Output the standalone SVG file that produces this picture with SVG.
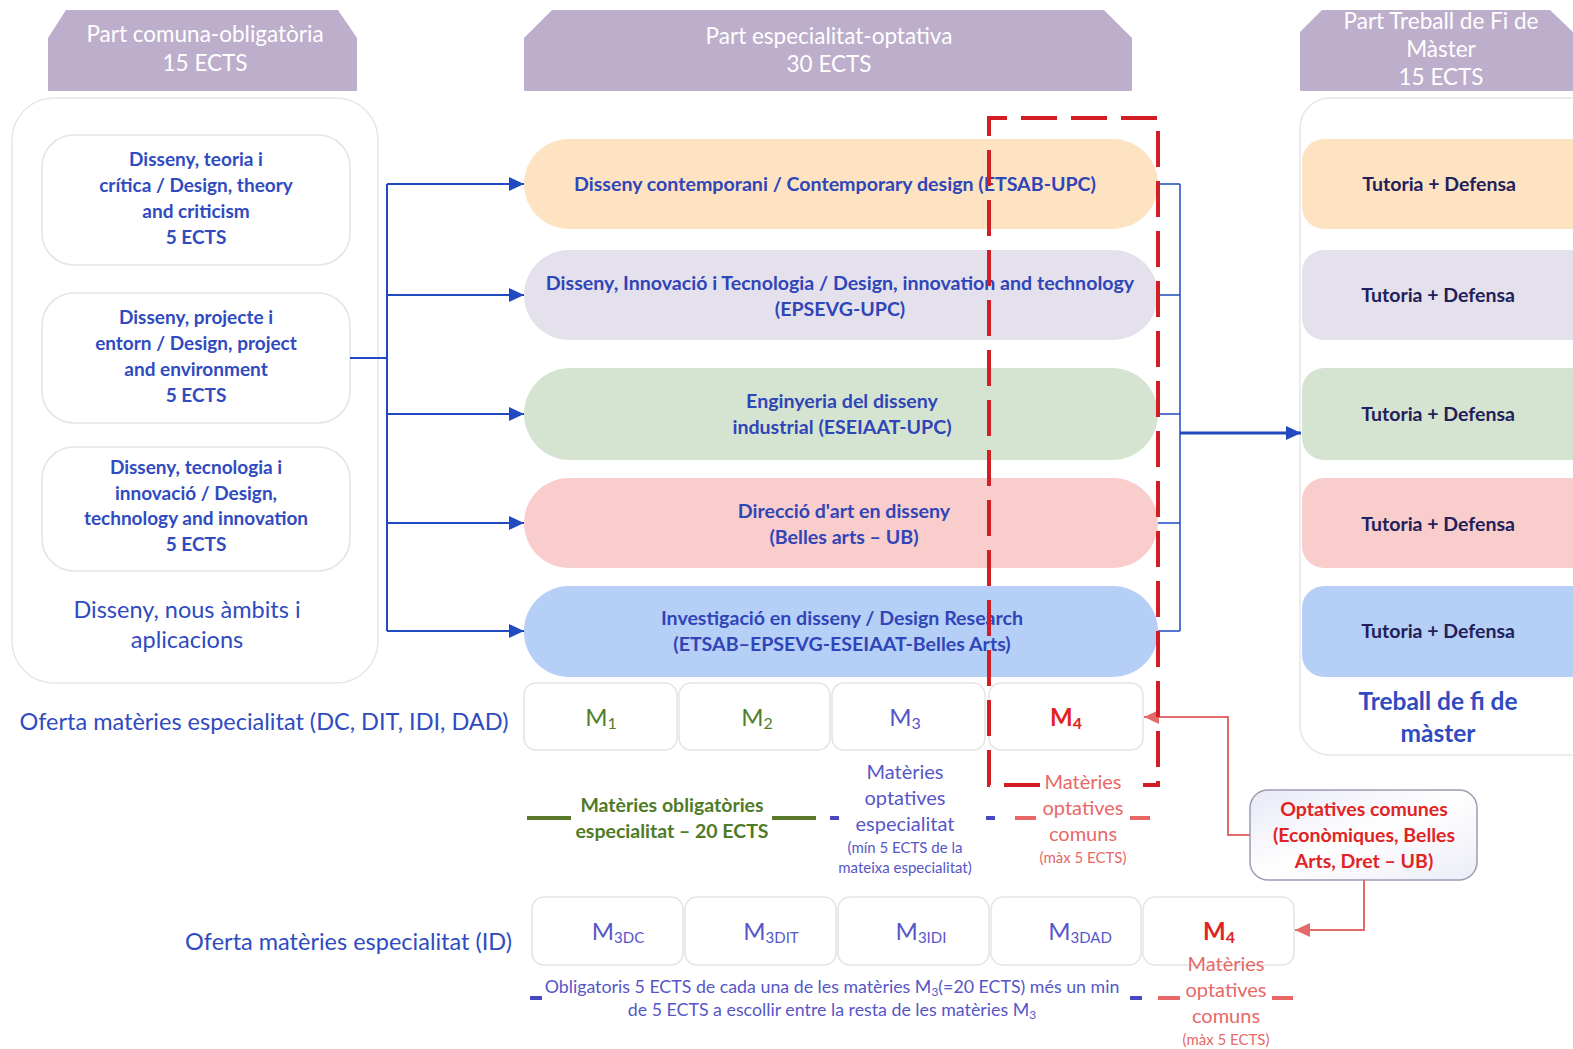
<svg xmlns="http://www.w3.org/2000/svg" width="1573" height="1049" viewBox="0 0 1573 1049">
<defs>
<style>
text{font-family:Lato,"Open Sans","Liberation Sans",sans-serif;text-anchor:middle}
.hdr{fill:#bdaecb}
.hdrt{fill:#ffffff;font-size:22.5px}
.cont{fill:#ffffff;stroke:#e6e6ea;stroke-width:1.5}
.inner{fill:#ffffff;stroke:#e3e3e8;stroke-width:1.5}
.lt{fill:#2f4bbf;font-size:19px;font-weight:bold}
.big{fill:#2f4bbf;font-size:23.5px}
.tfmt{fill:#2f4bbf;font-size:24.5px;font-weight:bold}
.pt{fill:#2f45b8;font-size:19.6px;font-weight:bold}
.tt{fill:#22205a;font-size:19.5px;font-weight:bold}
.mod{fill:#ffffff;stroke:#e3e3e8;stroke-width:1.5}
.mg{fill:#4f7f2c;font-size:24px}
.mb{fill:#5656c8;font-size:24px}
.mr{fill:#e32222;font-size:24px;font-weight:bold}
.con{stroke:#2149c0;stroke-width:2;fill:none}
.conr{stroke:#e26a6a;stroke-width:2;fill:none}
.green{fill:#4f7a28;font-size:19.5px;font-weight:bold}
.blue{fill:#5656c8;font-size:20px}
.blue2{fill:#5656c8;font-size:17.8px}
.red{fill:#e86868;font-size:20px}
.small{font-size:15px}
.oc{fill:#e02424;font-size:19.5px;font-weight:bold}
</style>
<marker id="ab" markerUnits="userSpaceOnUse" markerWidth="16" markerHeight="14" refX="15" refY="7" orient="auto"><path d="M0,0 L15,7 L0,14 Z" fill="#2149c0"/></marker>
<marker id="ar" markerUnits="userSpaceOnUse" markerWidth="16" markerHeight="14" refX="15" refY="7" orient="auto"><path d="M0,0 L15,7 L0,14 Z" fill="#e26a6a"/></marker>
<linearGradient id="og" x1="0" y1="0" x2="1" y2="1"><stop offset="0" stop-color="#e9e9f7"/><stop offset="0.5" stop-color="#ffffff"/><stop offset="1" stop-color="#ececf7"/></linearGradient>
</defs>
<rect width="1573" height="1049" fill="#ffffff"/>

<g id="header-comuna">
<path class="hdr" d="M66,10 H338 L357,38 V91 H48 V38 Z"/>
<text class="hdrt" x="205" y="42">Part comuna-obligatòria</text>
<text class="hdrt" x="205" y="71">15 ECTS</text>
</g>
<g id="header-especialitat">
<path class="hdr" d="M552,10 H1104 L1132,38 V91 H524 V38 Z"/>
<text class="hdrt" x="829" y="44">Part especialitat-optativa</text>
<text class="hdrt" x="829" y="72">30 ECTS</text>
</g>
<g id="header-tfm">
<path class="hdr" d="M1322,10 H1550 L1573,32 V91 H1300 V32 Z"/>
<text class="hdrt" x="1441" y="29">Part Treball de Fi de</text>
<text class="hdrt" x="1441" y="57">Màster</text>
<text class="hdrt" x="1441" y="85">15 ECTS</text>
</g>

<g id="comuna-container">
<rect class="cont" x="12" y="98" width="366" height="585" rx="42"/>
<text class="big" x="187" y="618">Disseny, nous àmbits i</text>
<text class="big" x="187" y="648">aplicacions</text>
</g>
<g id="comuna-1">
<rect class="inner" x="42" y="135" width="308" height="130" rx="32"/>
<text class="lt" x="196" y="166">Disseny, teoria i</text>
<text class="lt" x="196" y="192">crítica / Design, theory</text>
<text class="lt" x="196" y="218">and criticism</text>
<text class="lt" x="196" y="244">5 ECTS</text>
</g>
<g id="comuna-2">
<rect class="inner" x="42" y="293" width="308" height="130" rx="32"/>
<text class="lt" x="196" y="324">Disseny, projecte i</text>
<text class="lt" x="196" y="350">entorn / Design, project</text>
<text class="lt" x="196" y="376">and environment</text>
<text class="lt" x="196" y="402">5 ECTS</text>
</g>
<g id="comuna-3">
<rect class="inner" x="42" y="447" width="308" height="124" rx="32"/>
<text class="lt" x="196" y="474">Disseny, tecnologia i</text>
<text class="lt" x="196" y="500">innovació / Design,</text>
<text class="lt" x="196" y="525">technology and innovation</text>
<text class="lt" x="196" y="551">5 ECTS</text>
</g>

<g id="esp-dc">
<rect x="524" y="139" width="634" height="90" rx="45" fill="#fde3c1"/>
<text class="pt" x="835" y="191">Disseny contemporani / Contemporary design (ETSAB-UPC)</text>
</g>
<g id="esp-dit">
<rect x="524" y="250" width="634" height="90" rx="45" fill="#e4e1ec"/>
<text class="pt" x="840" y="290">Disseny, Innovació i Tecnologia / Design, innovation and technology</text>
<text class="pt" x="840" y="316">(EPSEVG-UPC)</text>
</g>
<g id="esp-idi">
<rect x="524" y="368" width="634" height="92" rx="46" fill="#d5e4d0"/>
<text class="pt" x="842" y="408">Enginyeria del disseny</text>
<text class="pt" x="842" y="434">industrial (ESEIAAT-UPC)</text>
</g>
<g id="esp-dad">
<rect x="524" y="478" width="634" height="90" rx="45" fill="#f8cdcb"/>
<text class="pt" x="844" y="518">Direcció d'art en disseny</text>
<text class="pt" x="844" y="544">(Belles arts – UB)</text>
</g>
<g id="esp-id">
<rect x="524" y="586" width="634" height="91" rx="45" fill="#b6cff6"/>
<text class="pt" x="842" y="625">Investigació en disseny / Design Research</text>
<text class="pt" x="842" y="651">(ETSAB–EPSEVG-ESEIAAT-Belles Arts)</text>
</g>

<g id="tfm-container">
<rect class="cont" x="1300" y="98" width="300" height="657" rx="30"/>
<text class="tfmt" x="1438" y="710">Treball de fi de</text>
<text class="tfmt" x="1438" y="742">màster</text>
</g>
<g id="tfm-1"><rect x="1302" y="139" width="290" height="90" rx="22" fill="#fde3c1"/><text class="tt" x="1439" y="191">Tutoria + Defensa</text></g>
<g id="tfm-2"><rect x="1302" y="250" width="290" height="90" rx="22" fill="#e4e1ec"/><text class="tt" x="1438" y="302">Tutoria + Defensa</text></g>
<g id="tfm-3"><rect x="1302" y="368" width="290" height="92" rx="22" fill="#d5e4d0"/><text class="tt" x="1438" y="421">Tutoria + Defensa</text></g>
<g id="tfm-4"><rect x="1302" y="478" width="290" height="90" rx="22" fill="#f8cdcb"/><text class="tt" x="1438" y="531">Tutoria + Defensa</text></g>
<g id="tfm-5"><rect x="1302" y="586" width="290" height="91" rx="22" fill="#b6cff6"/><text class="tt" x="1438" y="638">Tutoria + Defensa</text></g>

<g id="oferta-1">
<text class="big" x="264" y="730">Oferta matèries especialitat (DC, DIT, IDI, DAD)</text>
</g>
<g id="m1"><rect class="mod" x="524" y="683" width="153" height="67" rx="12"/><text class="mg" x="601" y="726">M<tspan style="font-size:16px" dy="3">1</tspan></text></g>
<g id="m2"><rect class="mod" x="679" y="683" width="151" height="67" rx="12"/><text class="mg" x="757" y="726">M<tspan style="font-size:16px" dy="3">2</tspan></text></g>
<g id="m3"><rect class="mod" x="832" y="683" width="153" height="67" rx="12"/><text class="mb" x="905" y="726">M<tspan style="font-size:16px" dy="3">3</tspan></text></g>
<g id="m4"><rect class="mod" x="989" y="683" width="154" height="67" rx="12"/><text class="mr" x="1066" y="726">M<tspan style="font-size:16px" dy="3">4</tspan></text></g>

<g id="optatives-comunes">
<rect x="1250" y="790" width="227" height="90" rx="18" fill="url(#og)" stroke="#9c9cb4" stroke-width="1.5"/>
<text class="oc" x="1364" y="816">Optatives comunes</text>
<text class="oc" x="1364" y="842">(Econòmiques, Belles</text>
<text class="oc" x="1364" y="868">Arts, Dret – UB)</text>
</g>

<g id="legend-1">
<line x1="527" y1="818" x2="571" y2="818" stroke="#5a7a2a" stroke-width="4"/>
<text class="green" x="672" y="812">Matèries obligatòries</text>
<text class="green" x="672" y="838">especialitat – 20 ECTS</text>
<line x1="772" y1="818" x2="816" y2="818" stroke="#5a7a2a" stroke-width="4"/>
<line x1="830" y1="818" x2="839" y2="818" stroke="#4848c0" stroke-width="4"/>
<text class="blue" x="905" y="779">Matèries</text>
<text class="blue" x="905" y="805">optatives</text>
<text class="blue" x="905" y="831">especialitat</text>
<text class="blue small" x="905" y="853">(mín 5 ECTS de la</text>
<text class="blue small" x="905" y="873">mateixa especialitat)</text>
<line x1="986" y1="818" x2="995" y2="818" stroke="#4848c0" stroke-width="4"/>
<line x1="1015" y1="818" x2="1036" y2="818" stroke="#e86868" stroke-width="4"/>
<text class="red" x="1083" y="789">Matèries</text>
<text class="red" x="1083" y="815">optatives</text>
<text class="red" x="1083" y="841">comuns</text>
<text class="red small" x="1083" y="863">(màx 5 ECTS)</text>
<line x1="1130" y1="818" x2="1150" y2="818" stroke="#e86868" stroke-width="4"/>
</g>

<g id="oferta-2">
<text class="big" x="512" y="950" style="text-anchor:end">Oferta matèries especialitat (ID)</text>
</g>
<g id="m3dc"><rect class="mod" x="532" y="897" width="151" height="68" rx="12"/><text class="mb" x="618" y="940">M<tspan style="font-size:15px" dy="3">3DC</tspan></text></g>
<g id="m3dit"><rect class="mod" x="685" y="897" width="151" height="68" rx="12"/><text class="mb" x="771" y="940">M<tspan style="font-size:15px" dy="3">3DIT</tspan></text></g>
<g id="m3idi"><rect class="mod" x="838" y="897" width="151" height="68" rx="12"/><text class="mb" x="921" y="940">M<tspan style="font-size:15px" dy="3">3IDI</tspan></text></g>
<g id="m3dad"><rect class="mod" x="991" y="897" width="150" height="68" rx="12"/><text class="mb" x="1080" y="940">M<tspan style="font-size:15px" dy="3">3DAD</tspan></text></g>
<g id="m4b"><rect class="mod" x="1143" y="897" width="151" height="68" rx="12"/><text class="mr" x="1219" y="940">M<tspan style="font-size:16px" dy="3">4</tspan></text></g>

<g id="legend-2">
<line x1="530" y1="998" x2="542" y2="998" stroke="#4848c0" stroke-width="4"/>
<text class="blue2" x="832" y="993">Obligatoris 5 ECTS de cada una de les matèries M<tspan style="font-size:12px" dy="3">3</tspan><tspan dy="-3">(=20 ECTS) més un min</tspan></text>
<text class="blue2" x="832" y="1016">de 5 ECTS a escollir entre la resta de les matèries M<tspan style="font-size:12px" dy="3">3</tspan></text>
<line x1="1130" y1="998" x2="1142" y2="998" stroke="#4848c0" stroke-width="4"/>
<line x1="1158" y1="998" x2="1180" y2="998" stroke="#e86868" stroke-width="4"/>
<text class="red" x="1226" y="971">Matèries</text>
<text class="red" x="1226" y="997">optatives</text>
<text class="red" x="1226" y="1023">comuns</text>
<text class="red small" x="1226" y="1045">(màx 5 ECTS)</text>
<line x1="1272" y1="998" x2="1293" y2="998" stroke="#e86868" stroke-width="4"/>
</g>

<g id="connectors">
<path class="con" d="M350,358 H387"/>
<path class="con" d="M387,184 V631"/>
<path class="con" d="M387,184 H524" marker-end="url(#ab)"/>
<path class="con" d="M387,295 H524" marker-end="url(#ab)"/>
<path class="con" d="M387,414 H524" marker-end="url(#ab)"/>
<path class="con" d="M387,523 H524" marker-end="url(#ab)"/>
<path class="con" d="M387,631 H524" marker-end="url(#ab)"/>
<path class="con" style="stroke-width:1.5px" d="M1158,184 H1180 M1158,295 H1180 M1158,414 H1180 M1158,523 H1180 M1158,631 H1180 M1180,184 V631"/>
<path class="con" style="stroke-width:3px" d="M1180,433 H1301" marker-end="url(#ab)"/>
<path class="conr" d="M1250,835 H1228 V717 H1144" marker-end="url(#ar)"/>
<path class="conr" d="M1364,880 V930 H1295" marker-end="url(#ar)"/>
<path d="M1040,785 H989 V118 H1158 V785 H1143" fill="none" stroke="#d21f26" stroke-width="4" stroke-dasharray="36 14"/>
</g>
</svg>
